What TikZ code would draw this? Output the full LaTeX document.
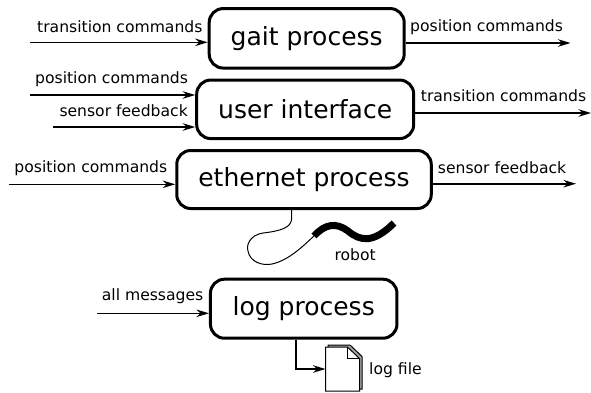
\documentclass[tikz,border=0pt]{standalone}
\usepackage{fontspec}
\setmainfont{DejaVu Sans}
\usetikzlibrary{arrows.meta}
\begin{document}
\begin{tikzpicture}[x=1bp,y=-1bp,
  proc/.style={draw,line width=3bp,rounded corners=14bp,inner sep=0pt,font=\fontsize{25bp}{30bp}\selectfont},
  lbl/.style={anchor=base west,inner sep=0pt,font=\fontsize{15.6bp}{18bp}\selectfont},
  arr/.style={line width=1.6bp,-{Stealth[length=12.5bp,width=7.5bp,inset=4bp]}},
  cable/.style={line width=1bp},
  robotbody/.style={line width=7bp},
  page/.style={line width=1bp,draw=black,fill=white},
  backpage/.style={line width=1bp,draw=black,fill=gray!70},
]
\useasboundingbox (0,0) rectangle (591,392);

% process boxes
\node[proc,minimum width=195bp,minimum height=59.5bp] (gait) at (306.7,38.3) {gait process};
\node[proc,minimum width=217bp,minimum height=58.5bp] (ui) at (305.2,109.3) {user interface};
\node[proc,minimum width=254.5bp,minimum height=58bp] (eth) at (304,179.5) {ethernet process};
\node[proc,minimum width=186.5bp,minimum height=59bp] (log) at (303.7,308.7) {log process};

% labels
\node[lbl] (gaitinl) at (37,32) {transition commands};
\node[lbl] (gaitoutl) at (410,31) {position commands};
\node[lbl] (uiinal) at (35,83) {position commands};
\node[lbl] (uiinbl) at (59.3,116) {sensor feedback};
\node[lbl] (uioutl) at (420.7,101.7) {transition commands};
\node[lbl] (ethinl) at (14.3,172.3) {position commands};
\node[lbl] (ethoutl) at (437.7,173.3) {sensor feedback};
\node[lbl] (loginl) at (101.7,300.7) {all messages};
\node[lbl] (robotl) at (334.3,260) {robot};
\node[lbl] (filel) at (369,374) {log file};

% free ends
\coordinate (gin) at (30,42.3);
\coordinate (gout) at (570.5,43);
\coordinate (uina) at (30,95);
\coordinate (uinb) at (53,127);
\coordinate (uout) at (591,113);
\coordinate (ein) at (9,184.3);
\coordinate (eout) at (576,183.7);
\coordinate (lin) at (97,313.3);
\coordinate (lx) at (295.7,0);
\coordinate (cx) at (291.7,0);
\coordinate (plug) at (314,236);

% arrows
\draw[arr] (gin) -- (gin -| gait.west);
\draw[arr] (gout -| gait.east) -- (gout);
\draw[arr] (uina) -- (uina -| ui.west);
\draw[arr] (uinb) -- (uinb -| ui.west);
\draw[arr] (uout -| ui.east) -- (uout);
\draw[arr] (ein) -- (ein -| eth.west);
\draw[arr] (eout -| eth.east) -- (eout);
\draw[arr] (lin) -- (lin -| log.west);

% file icon
\node[minimum width=33.8bp,minimum height=44bp,inner sep=0pt] (file) at (342.6,369) {};
\draw[backpage] (328.2,345) -- (350,345) -- (362,356.5) -- (362,389) -- (328.2,389) -- cycle;
\draw[page] (325.7,347) -- (347.5,347) -- (359.5,358.5) -- (359.5,391) -- (325.7,391) -- cycle;
\draw[line width=1bp] (347.5,347) -- (347.5,358.5) -- (359.5,358.5);
\draw[arr] (log.south -| lx) |- (file.west);

% cable and robot
\draw[cable] (eth.south -| cx) -- (291.7,218) .. controls (291.7,228) and (280,231) .. (263,233)
  .. controls (250,235) and (246,245) .. (248,251)
  .. controls (250,262) and (262,266) .. (272,264)
  .. controls (290,260) and (305,244) .. (plug);
\draw[robotbody] (plug) .. controls (325,224) and (336,222) .. (348,231)
  .. controls (360,241) and (373,244) .. (394,223);
\end{tikzpicture}
\end{document}
